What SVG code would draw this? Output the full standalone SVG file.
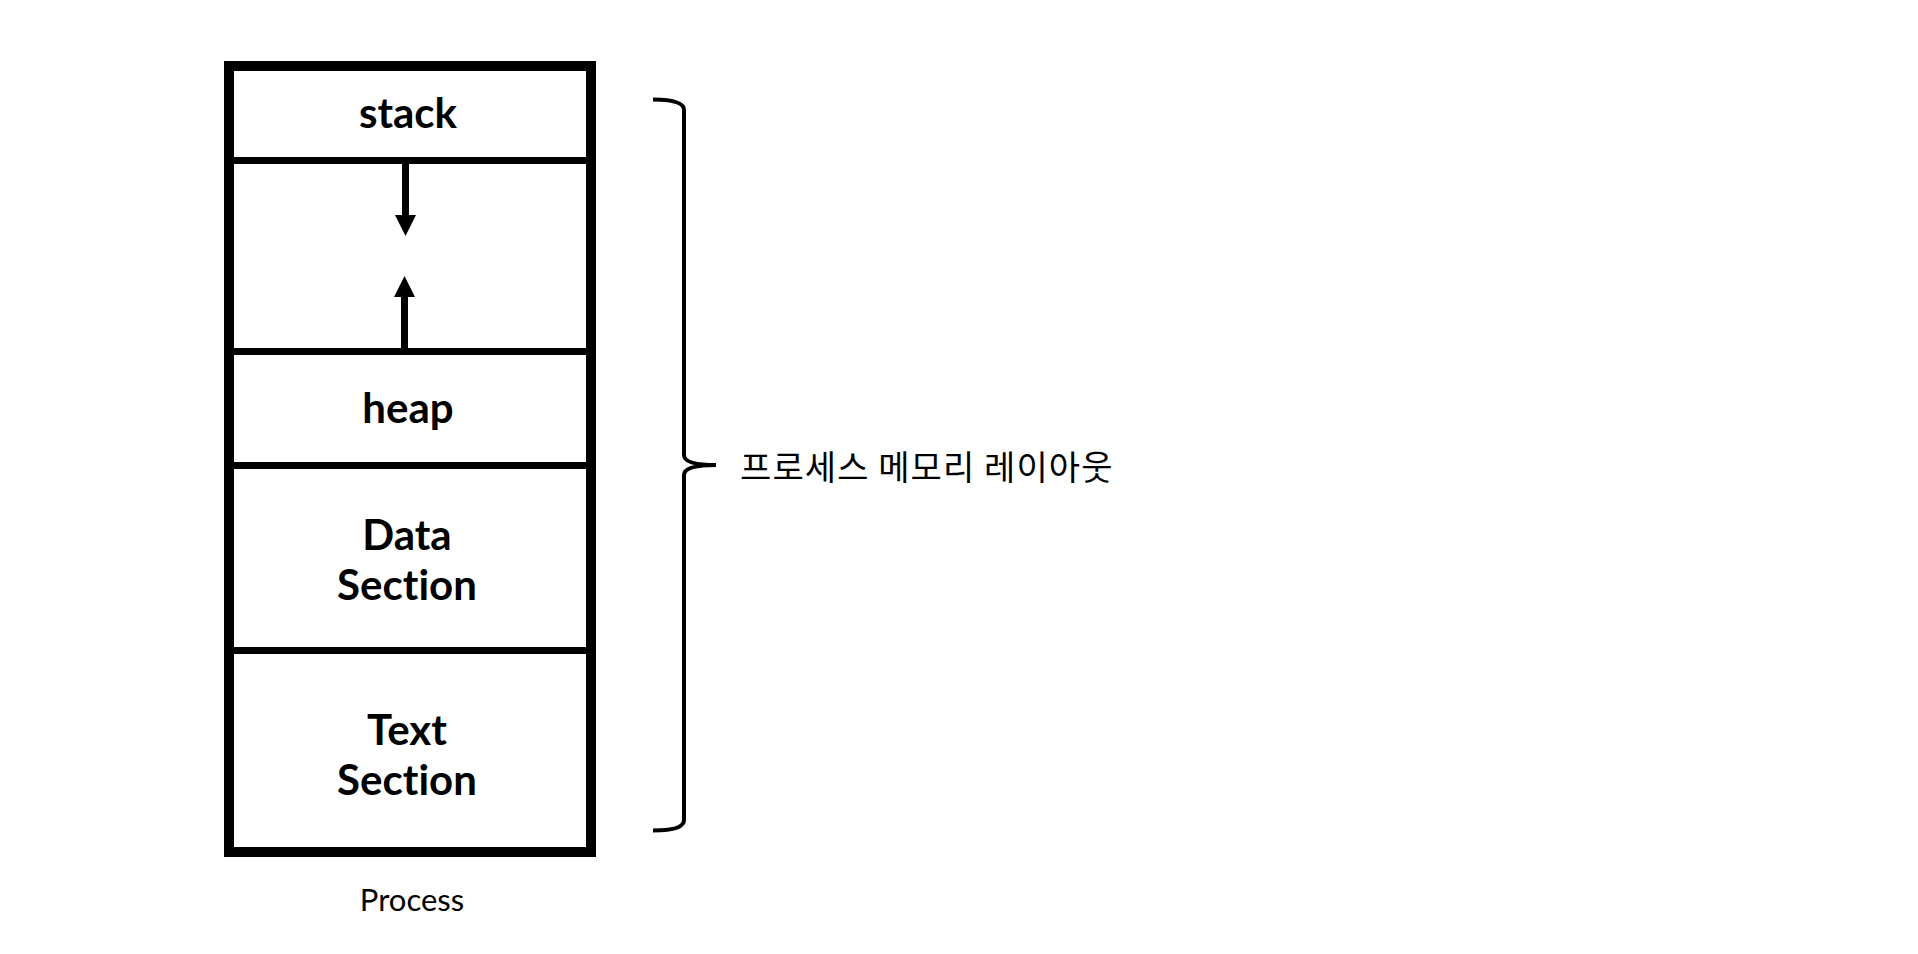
<svg xmlns="http://www.w3.org/2000/svg" width="1918" height="954" viewBox="0 0 1918 954">
<style>
.lbl{font-family:Lato,"Noto Sans",sans-serif;font-weight:bold;font-size:42px;fill:#000;text-anchor:middle;font-variant-ligatures:none}
.cap{font-family:Lato,"Noto Sans",sans-serif;font-size:31px;fill:#000;text-anchor:middle}
.kr{font-family:"Noto Sans CJK KR","Noto Sans",sans-serif;font-size:34px;letter-spacing:1.1px;fill:#000}
.div{stroke:#000;stroke-width:7;fill:none}
.conn{stroke:#000;stroke-width:7;fill:none}
</style>
<rect width="1918" height="954" fill="#fff"/>
<g id="process">
<rect x="229" y="66" width="362" height="786" fill="#fff" stroke="#000" stroke-width="10"/>
<text class="cap" x="412" y="911">Process</text>
</g>
<g id="stack">
<line class="div" x1="229" y1="160.5" x2="586" y2="160.5"/>
<text class="lbl" x="408" y="128">stack</text>
</g>
<g id="heap">
<line class="div" x1="229" y1="351.5" x2="586" y2="351.5"/>
<line class="div" x1="229" y1="465.5" x2="586" y2="465.5"/>
<text class="lbl" x="408" y="423">heap</text>
</g>
<g id="data">
<line class="div" x1="229" y1="650.5" x2="586" y2="650.5"/>
<text class="lbl" x="407" y="550">Data</text>
<text class="lbl" x="407" y="600">Section</text>
</g>
<g id="text">
<text class="lbl" x="407" y="745">Text</text>
<text class="lbl" x="407" y="795">Section</text>
</g>
<g id="layout">
<path d="M653,99.5 Q684,99.5 684,110 L684,455 Q684,465 716,465 Q684,465 684,475 L684,820 Q684,830.5 653,830.5" fill="none" stroke="#000" stroke-width="4"/>
<text class="kr" x="740" y="480">프로세스 메모리 레이아웃</text>
</g>
<g id="connectors">
<line class="conn" x1="405.5" y1="164" x2="405.5" y2="216"/>
<polygon points="395,215 416,215 405.5,236"/>
<line class="conn" x1="404.5" y1="348" x2="404.5" y2="296"/>
<polygon points="394,297 415,297 404.5,276"/>
</g>
</svg>
